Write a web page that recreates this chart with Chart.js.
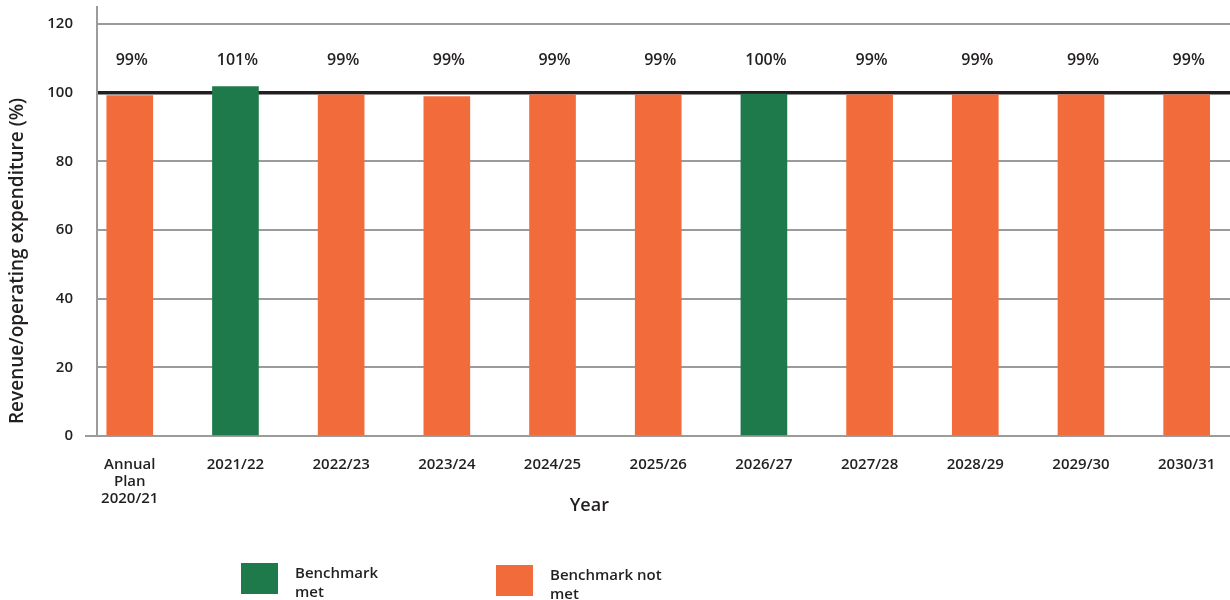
<!DOCTYPE html>
<html>
<head>
<meta charset="utf-8">
<script src="https://cdn.jsdelivr.net/npm/chart.js@4/dist/chart.umd.min.js"></script>
<style>
  body { margin: 0; background: #fff; }
  #wrap { position: relative; width: 1230px; height: 600px; }
  #chart { position: absolute; left: 0; top: 0; }
  .key { position: absolute; display: flex; align-items: flex-start; font-family: 'Open Sans', sans-serif; font-weight: 600; font-size: 15px; line-height: 19px; color: #231f20; }
  .key .box { width: 37px; height: 31px; margin-right: 17px; }
</style>
</head>
<body>
<div id="wrap">
  <canvas id="chart" width="1230" height="600"></canvas>
  <div class="key" style="left:241px; top:563px;"><div class="box" style="background:#1f7a4b"></div><div>Benchmark<br>met</div></div>
  <div class="key" style="left:496px; top:565px;"><div class="box" style="background:#f26c3b"></div><div>Benchmark not<br>met</div></div>
</div>
<script>
const years = [['Annual', 'Plan', '2020/21'], '2021/22', '2022/23', '2023/24', '2024/25', '2025/26', '2026/27', '2027/28', '2028/29', '2029/30', '2030/31'];
const ratios = [99.2, 101.8, 99.4, 98.9, 99.4, 99.4, 99.6, 99.4, 99.4, 99.4, 99.4];
const pctLabels = ['99%', '101%', '99%', '99%', '99%', '99%', '100%', '99%', '99%', '99%', '99%'];
const benchmarkMet = [false, true, false, false, false, false, true, false, false, false, false];
const yTicks = [0, 20, 40, 60, 80, 100, 120];

const GREEN = '#1f7a4b';
const ORANGE = '#f26c3b';
const TEXT = '#231f20';
const GRID = '#9b9b9b';
const FONT = "'Open Sans', sans-serif";

// percentages above the bars + axis titles
const extrasPlugin = {
  id: 'extras',
  afterDatasetsDraw(chart) {
    const ctx = chart.ctx;
    const yScale = chart.scales.y;
    const area = chart.chartArea;
    const bars = chart.getDatasetMeta(0).data;
    ctx.save();
    ctx.fillStyle = TEXT;
    ctx.font = `600 16px ${FONT}`;
    ctx.textAlign = 'center';
    ctx.textBaseline = 'middle';
    bars.forEach((bar, i) => {
      ctx.fillText(pctLabels[i], bar.x + 2, yScale.getPixelForValue(109.5));
    });

    ctx.font = `600 18px ${FONT}`;
    ctx.fillText('Year', area.left + area.width * 0.4345, 506);

    ctx.font = `600 19px ${FONT}`;
    ctx.translate(18, yScale.getPixelForValue(51));
    ctx.rotate(-Math.PI / 2);
    ctx.fillText('Revenue/operating expenditure (%)', 0, 0);
    ctx.restore();
  }
};

new Chart(document.getElementById('chart'), {
  type: 'bar',
  data: {
    datasets: [{
      data: ratios.map((v, i) => ({ x: i, y: v })),
      backgroundColor: benchmarkMet.map(m => m ? GREEN : ORANGE),
      barThickness: 46,
      borderWidth: 0
    }]
  },
  options: {
    responsive: false,
    animation: false,
    layout: { padding: { top: 7, right: 0, left: 0, bottom: 0 } },
    plugins: {
      legend: { display: false },
      tooltip: { enabled: false }
    },
    scales: {
      x: {
        type: 'linear',
        offset: false,
        min: -0.31,
        max: 10.41,
        afterBuildTicks: scale => { scale.ticks = years.map((_, i) => ({ value: i })); },
        afterFit: scale => { scale.height = 164; scale.paddingLeft = 0; scale.paddingRight = 0; },
        grid: { display: false, offset: false },
        border: { display: false },
        ticks: {
          autoSkip: false,
          maxRotation: 0,
          padding: 12,
          color: TEXT,
          font: { family: FONT, size: 15, weight: '600', lineHeight: 1.15 },
          callback: v => years[v]
        }
      },
      y: {
        min: 0,
        max: 125,
        afterBuildTicks: scale => { scale.ticks = yTicks.map(v => ({ value: v })); },
        afterFit: scale => { scale.width = 97; scale.paddingTop = 0; scale.paddingBottom = 0; },
        grid: {
          color: c => c.tick && c.tick.value === 100 ? TEXT : GRID,
          lineWidth: c => c.tick && c.tick.value === 100 ? 3.5 : 2,
          tickColor: c => c.tick && c.tick.value === 0 ? GRID : 'rgba(0,0,0,0)',
          tickLength: 12
        },
        border: { color: GRID, width: 2 },
        ticks: {
          padding: 12,
          color: TEXT,
          font: { family: FONT, size: 15, weight: '600' }
        }
      }
    }
  },
  plugins: [extrasPlugin]
});
</script>
</body>
</html>
